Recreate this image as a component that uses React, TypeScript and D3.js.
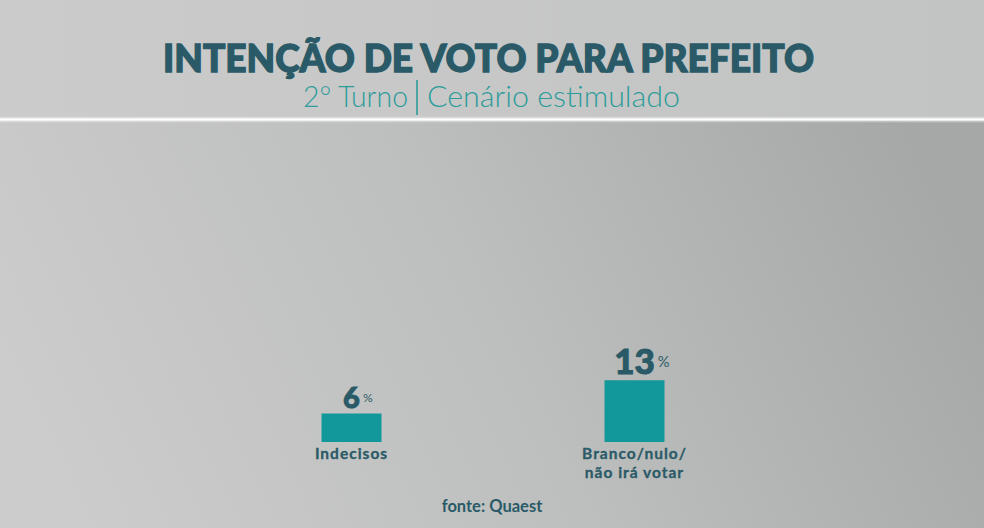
import { useMemo } from "react";
import * as d3 from "d3";

/* ------------------------------------------------------------------ */
/*  Data                                                              */
/* ------------------------------------------------------------------ */

const categories = ["Indecisos", "Branco/nulo/"];
const categoryLines = [["Indecisos"], ["Branco/nulo/", "não irá votar"]];
const values = [6, 13];

const TITLE = "INTENÇÃO DE VOTO PARA PREFEITO";
const SUB_LEFT = "2° Turno";
const SUB_RIGHT = "Cenário estimulado";
const SOURCE = "fonte: Quaest";

/* ------------------------------------------------------------------ */
/*  Layout                                                            */
/* ------------------------------------------------------------------ */

const W = 984;
const H = 528;
const BASE = 442;
const BAR_W = 60;
const DARK = "#2a5a67";
const TEAL = "#12979b";
const SUB = "#2d9c9b";
const FONT = "Lato, 'Open Sans', sans-serif";

function measure(text: string, size: number, weight: number) {
  const ctx = document.createElement("canvas").getContext("2d");
  if (!ctx) return text.length * size * 0.6;
  ctx.font = `${weight} ${size}px Lato`;
  return ctx.measureText(text).width;
}

export default function App() {
  const x = useMemo(
    () => d3.scalePoint<string>().domain(categories).range([351.5, 634.5]),
    [],
  );
  const y = useMemo(() => d3.scaleLinear().domain([0, 100]).range([BASE, BASE - 475]), []);
  const labelSize = useMemo(
    () => d3.scaleLinear().domain(d3.extent(values) as [number, number]).range([29, 35]),
    [],
  );

  return (
    <svg
      width={W}
      height={H}
      viewBox={`0 0 ${W} ${H}`}
      style={{ position: "absolute", left: 0, top: 0, display: "block" }}
      fontFamily={FONT}
    >
      <defs>
        <linearGradient id="head" x1="0" x2="1" y1="0" y2="0">
          <stop offset="0" stopColor="#cacbca" />
          <stop offset="1" stopColor="#c2c4c3" />
        </linearGradient>
        <linearGradient id="body" x1="0" x2="1" y1="0.6" y2="0.4">
          <stop offset="0" stopColor="#cbcccb" />
          <stop offset="0.5" stopColor="#bdbfbe" />
          <stop offset="1" stopColor="#a6a8a7" />
        </linearGradient>
        <linearGradient id="glow" x1="0" x2="0" y1="0" y2="1">
          <stop offset="0" stopColor="#ffffff" stopOpacity="0" />
          <stop offset="0.5" stopColor="#ffffff" stopOpacity="1" />
          <stop offset="1" stopColor="#ffffff" stopOpacity="0" />
        </linearGradient>
      </defs>

      {/* background */}
      <rect x={0} y={0} width={W} height={120} fill="url(#head)" />
      <rect x={0} y={120} width={W} height={H - 120} fill="url(#body)" />
      <rect x={0} y={116} width={W} height={7} fill="url(#glow)" opacity={0.7} />
      <rect x={0} y={118.5} width={W} height={2} fill="#ffffff" />

      {/* title */}
      <text
        x={488.5}
        y={71.5}
        textAnchor="middle"
        fontSize={37}
        fontWeight={900}
        fill={DARK}
        stroke={DARK}
        strokeWidth={1.3}
        textLength={651}
        lengthAdjust="spacingAndGlyphs"
      >
        {TITLE}
      </text>

      {/* subtitle */}
      <text
        x={408}
        y={107}
        textAnchor="end"
        fontSize={30}
        fontWeight={300}
        fill={SUB}
        textLength={105}
        lengthAdjust="spacingAndGlyphs"
      >
        {SUB_LEFT}
      </text>
      <line x1={417} x2={417} y1={80} y2={115} stroke={SUB} strokeWidth={1.6} />
      <text
        x={427}
        y={107}
        textAnchor="start"
        fontSize={30}
        fontWeight={300}
        fill={SUB}
        textLength={253}
        lengthAdjust="spacingAndGlyphs"
      >
        {SUB_RIGHT}
      </text>

      {/* bars */}
      {categories.map((c, i) => {
        const cx = x(c) ?? 0;
        const v = values[i];
        const fs = labelSize(v);
        const numW = Math.max(measure(String(v), fs, 900), String(v).length * fs * 0.57);
        const top = y(v);
        return (
          <g key={c}>
            <rect x={cx - BAR_W / 2} y={top} width={BAR_W} height={BASE - top} fill={TEAL} />
            <text
              x={cx}
              y={top - 6}
              textAnchor="middle"
              fontSize={fs}
              fontWeight={900}
              fill={DARK}
              stroke={DARK}
              strokeWidth={1}
              textLength={numW}
              lengthAdjust="spacingAndGlyphs"
            >
              {v}
            </text>
            <text
              x={cx + numW / 2 + 3}
              y={top - 6 - fs * 0.2}
              fontSize={fs * 0.42}
              fontWeight={400}
              fill={DARK}
            >
              %
            </text>
            {categoryLines[i].map((line, j) => (
              <text
                key={line}
                x={cx}
                y={BASE + 16.5 + j * 19}
                textAnchor="middle"
                fontSize={15.5}
                fontWeight={700}
                letterSpacing={1}
                fill={DARK}
                stroke={DARK}
                strokeWidth={0.3}
              >
                {line}
              </text>
            ))}
          </g>
        );
      })}

      {/* source */}
      <text x={492} y={512} textAnchor="middle" fontSize={16.5} fontWeight={700} fill={DARK}>
        {SOURCE}
      </text>
    </svg>
  );
}
